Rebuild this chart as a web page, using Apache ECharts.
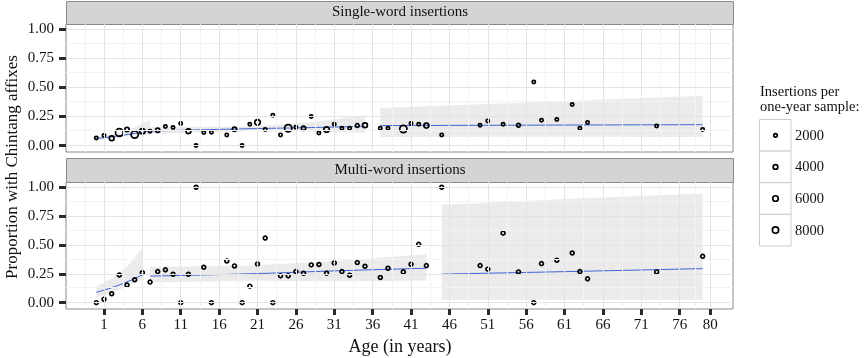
<!DOCTYPE html>
<html lang="en">
<head>
<meta charset="UTF-8">
<title>Chintang affixes by age</title>
<script src="https://cdn.jsdelivr.net/npm/echarts@6/dist/echarts.min.js"></script>
<style>html,body{margin:0;padding:0;background:#fff}</style>
</head>
<body>
<div id="main" style="width:868px;height:358px"></div>
<script>
// age of each one-year sample (same samples in both panels)
var ages = [0,1,2,3,4,5,6,7,8,9,10,11,12,13,14,15,17,18,19,20,21,22,23,24,25,26,27,28,29,30,31,32,33,34,35,37,38,40,41,42,43,45,50,51,53,55,57,58,60,62,63,64,73,79];

// single-word insertions: proportion and number of insertions
var singleProp = [0.066,0.086,0.063,0.112,0.138,0.095,0.123,0.123,0.132,0.164,0.155,0.19,0.123,0,0.112,0.115,0.092,0.14,0,0.184,0.2,0.138,0.261,0.092,0.149,0.158,0.149,0.25,0.109,0.138,0.184,0.149,0.149,0.172,0.175,0.149,0.149,0.143,0.19,0.184,0.172,0.092,0.175,0.212,0.184,0.175,0.546,0.218,0.224,0.353,0.149,0.198,0.169,0.138];
var singleN = [1700,1700,4200,12500,3200,10500,5800,1700,3200,1700,1700,1700,4200,1700,1700,1700,1700,3200,1700,1700,5800,1700,1700,1700,11000,1700,3200,1700,1700,5800,1700,1700,1700,2500,4500,1700,1700,11000,1700,1700,4500,1700,1700,1700,1700,2500,1700,1700,1700,1700,1700,1700,1700,1700];

// multi-word insertions
var multiProp = [0,0.03,0.077,0.24,0.152,0.198,0.258,0.178,0.269,0.284,0.246,0,0.246,1,0.307,0,0.361,0.318,0,0.143,0.335,0.559,0,0.232,0.232,0.269,0.255,0.327,0.33,0.255,0.344,0.269,0.238,0.347,0.315,0.218,0.298,0.266,0.333,0.505,0.321,1,0.321,0.29,0.602,0.266,0,0.338,0.367,0.43,0.269,0.206,0.266,0.401];
var multiN = [2500,2500,2500,2500,2500,2500,2700,2500,2500,2500,2500,2500,2500,2500,2500,2500,2500,2500,2500,2500,2500,2500,2500,2500,2500,2500,2500,2500,2500,2500,2500,2500,2500,2500,2500,2500,2500,2700,2500,2500,2500,2500,2500,2500,2500,2500,2500,2500,2500,2500,2500,2500,2500,2500];

// smoother per age segment: fit with lower / upper band
var singleFitAge = [[0,3.5,7],[7,20,28,35],[37,58,79]];
var singleFit    = [[0.06,0.09,0.125],[0.125,0.145,0.155,0.166],[0.172,0.176,0.18]];
var singleLo     = [[0.045,0.075,0.1],[0.1,0.125,0.12,0.11],[0.074,0.075,0.074]];
var singleHi     = [[0.075,0.115,0.22],[0.16,0.165,0.2,0.26],[0.324,0.375,0.428]];

var multiFitAge = [[0,2,4,6],[7,20,31,43],[45,62,79]];
var multiFit    = [[0.089,0.13,0.18,0.241],[0.23,0.25,0.275,0.298],[0.247,0.27,0.295]];
var multiLo     = [[0.04,0.085,0.14,0.2],[0.175,0.19,0.185,0.19],[0.026,0.026,0.026]];
var multiHi     = [[0.14,0.21,0.31,0.47],[0.31,0.32,0.36,0.42],[0.849,0.9,0.946]];

var xTicks = [1,6,11,16,21,26,31,36,41,46,51,56,61,66,71,76,80];
var xMinor = [-1.5,3.5,8.5,13.5,18.5,23.5,28.5,33.5,38.5,43.5,48.5,53.5,58.5,63.5,68.5,73.5,78];
var yTicks = [0,0.25,0.5,0.75,1];
var yMinor = [0.125,0.375,0.625,0.875];
var legendN = [2000,4000,6000,8000];

var FONT = '"Liberation Serif", "DejaVu Serif", serif';

function dotSize(n) {
    return 0.0626 * Math.sqrt(n) + 0.7;
}

var myChart = echarts.init(document.getElementById('main'));

function panelSeries(idx, prop, n, fitAge, fit, lo, hi) {
    var s = [];
    // panel grid, major and minor
    var lines = [];
    xMinor.forEach(function (v) { lines.push({xAxis: v, lineStyle: {color: '#f3f3f3', width: 1, type: 'solid'}}); });
    yMinor.forEach(function (v) { lines.push({yAxis: v, lineStyle: {color: '#f3f3f3', width: 1, type: 'solid'}}); });
    xTicks.forEach(function (v) { lines.push({xAxis: v, lineStyle: {color: '#e4e4e4', width: 1, type: 'solid'}}); });
    yTicks.forEach(function (v) { lines.push({yAxis: v, lineStyle: {color: '#e4e4e4', width: 1, type: 'solid'}}); });
    s.push({
        type: 'line', xAxisIndex: idx, yAxisIndex: idx, data: [], silent: true, z: 0,
        markLine: {silent: true, symbol: 'none', label: {show: false}, animation: false, data: lines}
    });

    fitAge.forEach(function (a, k) {
        // confidence band
        s.push({
            type: 'custom', xAxisIndex: idx, yAxisIndex: idx, z: 1, silent: true,
            data: a.map(function (x, j) { return [x, lo[k][j], hi[k][j]]; }),
            renderItem: function (params, api) {
                if (params.dataIndex !== 0) return;
                var pts = [];
                for (var j = 0; j < a.length; j++) pts.push(api.coord([a[j], hi[k][j]]));
                for (var j = a.length - 1; j >= 0; j--) pts.push(api.coord([a[j], lo[k][j]]));
                return {type: 'polygon', shape: {points: pts}, style: {fill: 'rgba(153,153,153,0.2)'}};
            }
        });
        s.push({
            type: 'line', xAxisIndex: idx, yAxisIndex: idx, z: 2, silent: true,
            data: a.map(function (x, j) { return [x, fit[k][j]]; }),
            smooth: true, showSymbol: false,
            lineStyle: {color: '#3b62d6', width: 1}
        });
    });

    s.push({
        type: 'scatter', xAxisIndex: idx, yAxisIndex: idx, z: 3,
        data: ages.map(function (x, j) { return [x, prop[j], n[j]]; }),
        symbolSize: function (v) { return dotSize(v[2]); },
        itemStyle: {color: 'rgba(255,255,255,0)', borderColor: '#000', borderWidth: 1.7, opacity: 1}
    });
    return s;
}

function xAxisFor(idx, showLabels) {
    return {
        type: 'value', gridIndex: idx, min: -3.95, max: 82.95,
        axisLine: {show: false, onZero: false},
        splitLine: {show: false},
        axisTick: {show: showLabels, customValues: xTicks, length: 6, lineStyle: {color: '#2a2a2a', width: 3}},
        axisLabel: {show: showLabels, customValues: xTicks, margin: 9, fontFamily: FONT, fontSize: 15, color: '#111'}
    };
}

function yAxisFor(idx) {
    return {
        type: 'value', gridIndex: idx, min: -0.055, max: 1.045,
        axisLine: {show: false, onZero: false},
        splitLine: {show: false},
        axisTick: {show: true, customValues: yTicks, length: 7, lineStyle: {color: '#2a2a2a', width: 3}},
        axisLabel: {customValues: yTicks, margin: 12, fontFamily: FONT, fontSize: 15, color: '#111',
            formatter: function (v) { return v.toFixed(2); }}
    };
}

var graphics = [
    {type: 'rect', left: 66, top: 1, shape: {width: 667, height: 23}, style: {fill: '#d4d4d4', stroke: '#8a8a8a', lineWidth: 1}},
    {type: 'text', x: 400, y: 12.5, style: {text: 'Single-word insertions', font: '15px ' + FONT, fill: '#111', align: 'center', verticalAlign: 'middle'}},
    {type: 'rect', left: 66, top: 158, shape: {width: 667, height: 24}, style: {fill: '#d4d4d4', stroke: '#8a8a8a', lineWidth: 1}},
    {type: 'text', x: 400, y: 170, style: {text: 'Multi-word insertions', font: '15px ' + FONT, fill: '#111', align: 'center', verticalAlign: 'middle'}},
    {type: 'text', x: 400, y: 347, style: {text: 'Age (in years)', font: '18px ' + FONT, fill: '#111', align: 'center', verticalAlign: 'middle'}},
    {type: 'text', x: 13, y: 167, rotation: Math.PI / 2, style: {text: 'Proportion with Chintang affixes', font: '17px ' + FONT, fill: '#111', align: 'center', verticalAlign: 'middle'}},
    {type: 'text', x: 760, y: 84, style: {text: 'Insertions per\none-year sample:', font: '14.5px ' + FONT, fill: '#111', lineHeight: 15.6}}
];
// the legend for dot sizes
legendN.forEach(function (n, i) {
    var top = 119.5 + i * 31.6;
    graphics.push({type: 'rect', shape: {x: 759.5, y: top, width: 31.5, height: 31.6}, style: {fill: '#fff', stroke: '#cccccc', lineWidth: 1}});
    graphics.push({type: 'circle', shape: {cx: 775.5, cy: top + 15.8, r: dotSize(n) / 2}, style: {fill: 'none', stroke: '#000', lineWidth: 1.7}});
    graphics.push({type: 'text', x: 795, y: top + 16.5, style: {text: String(n), font: '14.5px ' + FONT, fill: '#111', verticalAlign: 'middle'}});
});

var option = {
    animation: false,
    backgroundColor: '#fff',
    grid: [
        {left: 66, top: 24, width: 667, height: 128, show: true, backgroundColor: '#fff', borderColor: '#8a8a8a', borderWidth: 1},
        {left: 66, top: 182, width: 667, height: 127, show: true, backgroundColor: '#fff', borderColor: '#8a8a8a', borderWidth: 1}
    ],
    xAxis: [xAxisFor(0, false), xAxisFor(1, true)],
    yAxis: [yAxisFor(0), yAxisFor(1)],
    series: panelSeries(0, singleProp, singleN, singleFitAge, singleFit, singleLo, singleHi)
        .concat(panelSeries(1, multiProp, multiN, multiFitAge, multiFit, multiLo, multiHi)),
    graphic: graphics
};

myChart.setOption(option);
</script>
</body>
</html>
